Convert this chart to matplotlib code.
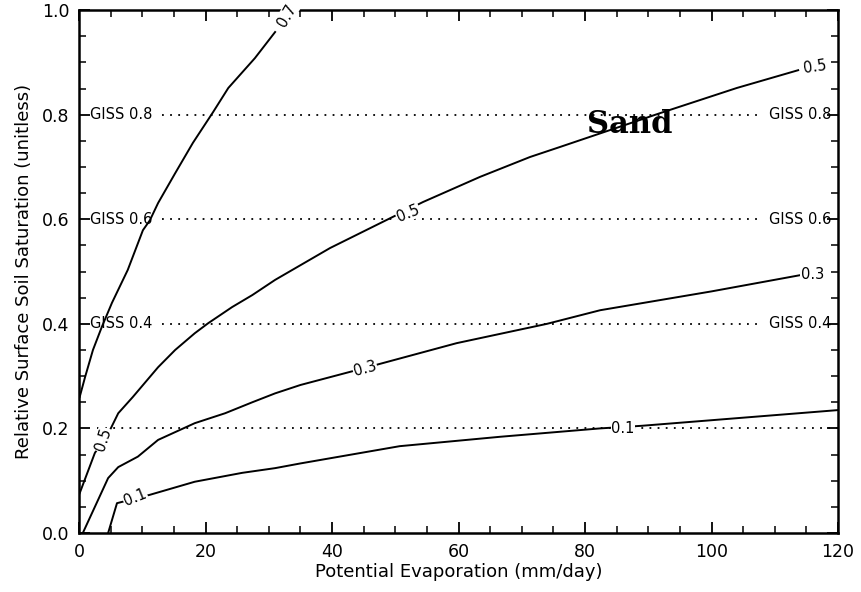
import matplotlib.pyplot as plt
from matplotlib.ticker import MultipleLocator

# curves of constant value
c07_x = [0.1, 0.95, 2.2, 3.6, 5.2, 7.7, 10.1, 11.2, 12.5, 15.2, 18, 21.2, 23.6, 27.8, 31]
c07_y = [0.26, 0.298, 0.35, 0.394, 0.44, 0.503, 0.579, 0.598, 0.631, 0.688, 0.746, 0.805, 0.851, 0.908, 0.958]

c05_x = [0.1, 2.5, 4.9, 6.2, 8.5, 12.5, 15.2, 18.3, 20.4, 24.2, 27.4, 31, 39.7, 49.2, 54.4, 63.4,
         71.3, 76, 91.9, 104, 113.7]
c05_y = [0.076, 0.153, 0.197, 0.229, 0.26, 0.317, 0.35, 0.382, 0.401, 0.432, 0.455, 0.484, 0.545,
         0.602, 0.633, 0.681, 0.719, 0.738, 0.803, 0.851, 0.885]

c03_x = [0.6, 3.0, 4.6, 6.2, 9.3, 12.5, 18.3, 23.1, 27.4, 31, 35, 45, 59.7, 74, 82.4, 100, 114]
c03_y = [0.0, 0.063, 0.105, 0.126, 0.146, 0.178, 0.21, 0.229, 0.25, 0.267, 0.283, 0.315, 0.363,
         0.40, 0.426, 0.462, 0.493]

c01_x = [4.6, 6.0, 11.2, 18.3, 25.8, 31, 35, 50.7, 66.6, 82.4, 89, 120]
c01_y = [0.0, 0.057, 0.073, 0.098, 0.115, 0.124, 0.133, 0.166, 0.184, 0.2, 0.205, 0.235]

# contour labels: text, x, y, rotation
labels = [('0.7', 32.9, 0.99, 60), ('0.5', 3.8, 0.178, 72), ('0.1', 8.9, 0.067, 22),
          ('0.3', 45.2, 0.315, 15), ('0.5', 52.0, 0.612, 22), ('0.5', 116.3, 0.892, 8),
          ('0.3', 116.0, 0.495, 0), ('0.1', 86.0, 0.2, 0)]

giss_levels = [0.4, 0.6, 0.8]

fig = plt.figure(figsize=(8.61, 5.92), dpi=100)
ax = fig.add_axes([0.0918, 0.0997, 0.8815, 0.8833])

for xs, ys in [(c07_x, c07_y), (c05_x, c05_y), (c03_x, c03_y), (c01_x, c01_y)]:
    ax.plot(xs, ys, color='black', lw=1.4, zorder=2)

# GISS reference levels
for lev in giss_levels:
    ax.plot([13.1, 107.7], [lev, lev], color='black', lw=1.3, ls=(0, (1, 3.5)), zorder=1)
    ax.text(1.7, lev, f'GISS {lev:.1f}', fontsize=10.5, ha='left', va='center', zorder=3)
    ax.text(119.0, lev, f'GISS {lev:.1f}', fontsize=10.5, ha='right', va='center', zorder=3)
ax.plot([2.8, 120], [0.2, 0.2], color='black', lw=1.3, ls=(0, (1, 3.5)), zorder=1)

for txt, x, y, rot in labels:
    ax.text(x, y, txt, fontsize=10.5, rotation=rot, ha='center', va='center', zorder=4,
            bbox=dict(facecolor='white', edgecolor='none', pad=0.5))

ax.text(87.1, 0.782, 'Sand', fontsize=22, family='DejaVu Serif', weight='bold',
        ha='center', va='center')

ax.set_xlim(0, 120)
ax.set_ylim(0, 1.0)
ax.xaxis.set_major_locator(MultipleLocator(20))
ax.xaxis.set_minor_locator(MultipleLocator(5))
ax.yaxis.set_major_locator(MultipleLocator(0.2))
ax.yaxis.set_minor_locator(MultipleLocator(0.05))
ax.yaxis.set_major_formatter(plt.FormatStrFormatter('%.1f'))
ax.tick_params(which='both', direction='in', top=True, right=True, labelsize=12.5)
ax.tick_params(which='major', length=8, width=1.3, pad=7)
ax.tick_params(which='minor', length=5, width=1.1)
for s in ax.spines.values():
    s.set_linewidth(1.8)

ax.set_xlabel('Potential Evaporation (mm/day)', fontsize=13, labelpad=2)
ax.set_ylabel('Relative Surface Soil Saturation (unitless)', fontsize=13, labelpad=6)

plt.savefig('out.png', dpi=100)
plt.close()
